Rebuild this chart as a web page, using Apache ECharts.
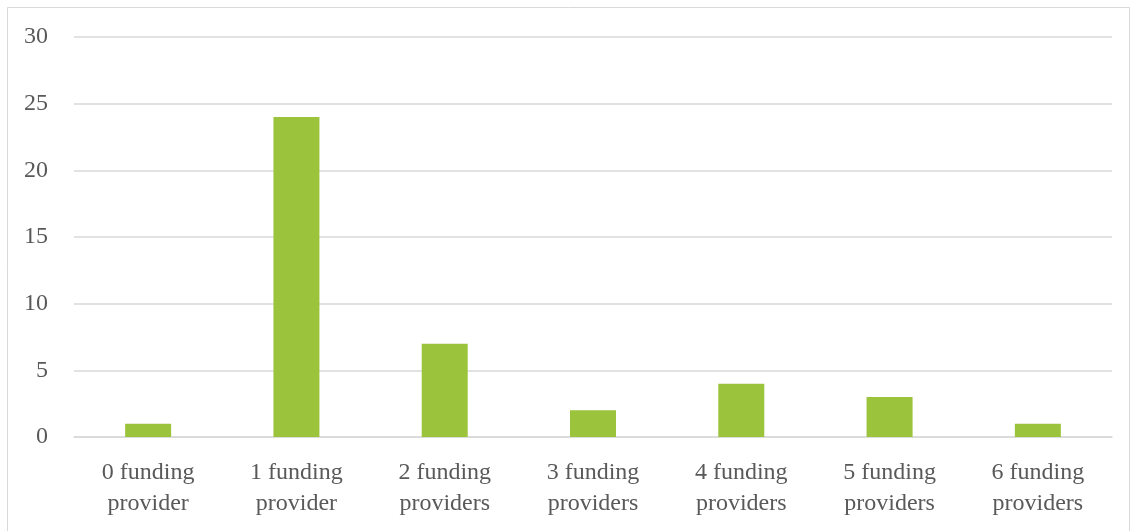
<!DOCTYPE html>
<html>
<head>
<meta charset="utf-8">
<script src="https://cdn.jsdelivr.net/npm/echarts@6/dist/echarts.min.js"></script>
<style>
  html, body { margin: 0; padding: 0; background: #fff; }
  #chart { width: 1132px; height: 531px; }
</style>
</head>
<body>
<div id="chart"></div>
<script>
// Number of projects by count of funding providers
const categories = [
  '0 funding\nprovider',
  '1 funding\nprovider',
  '2 funding\nproviders',
  '3 funding\nproviders',
  '4 funding\nproviders',
  '5 funding\nproviders',
  '6 funding\nproviders'
];
const counts = [1, 24, 7, 2, 4, 3, 1];

const textColor = '#595959';
const fontFamily = '"Liberation Serif", "DejaVu Serif", serif';

const chart = echarts.init(document.getElementById('chart'), null, { renderer: 'canvas' });
chart.setOption({
  animation: false,
  backgroundColor: '#ffffff',
  graphic: [{
    type: 'rect',
    shape: { x: 7.5, y: 7.5, width: 1122, height: 530 },
    style: { fill: 'none', stroke: '#d9d9d9', lineWidth: 1 },
    silent: true
  }],
  grid: { left: 74, right: 20, top: 37, bottom: 94 },
  xAxis: {
    type: 'category',
    data: categories,
    axisLine: { show: true, lineStyle: { color: '#d9d9d9', width: 1.5 } },
    axisTick: { show: false },
    axisLabel: {
      color: textColor,
      fontFamily: fontFamily,
      fontSize: 24,
      lineHeight: 31,
      margin: 20,
      interval: 0
    }
  },
  yAxis: {
    type: 'value',
    min: 0,
    max: 30,
    interval: 5,
    axisLine: { show: false },
    axisTick: { show: false },
    splitLine: { lineStyle: { color: '#d9d9d9', width: 1.5 } },
    axisLabel: {
      color: textColor,
      fontFamily: fontFamily,
      fontSize: 24,
      margin: 26
    }
  },
  series: [{
    type: 'bar',
    data: counts,
    barWidth: 46,
    itemStyle: { color: '#9bc33c' }
  }]
});
</script>
</body>
</html>
